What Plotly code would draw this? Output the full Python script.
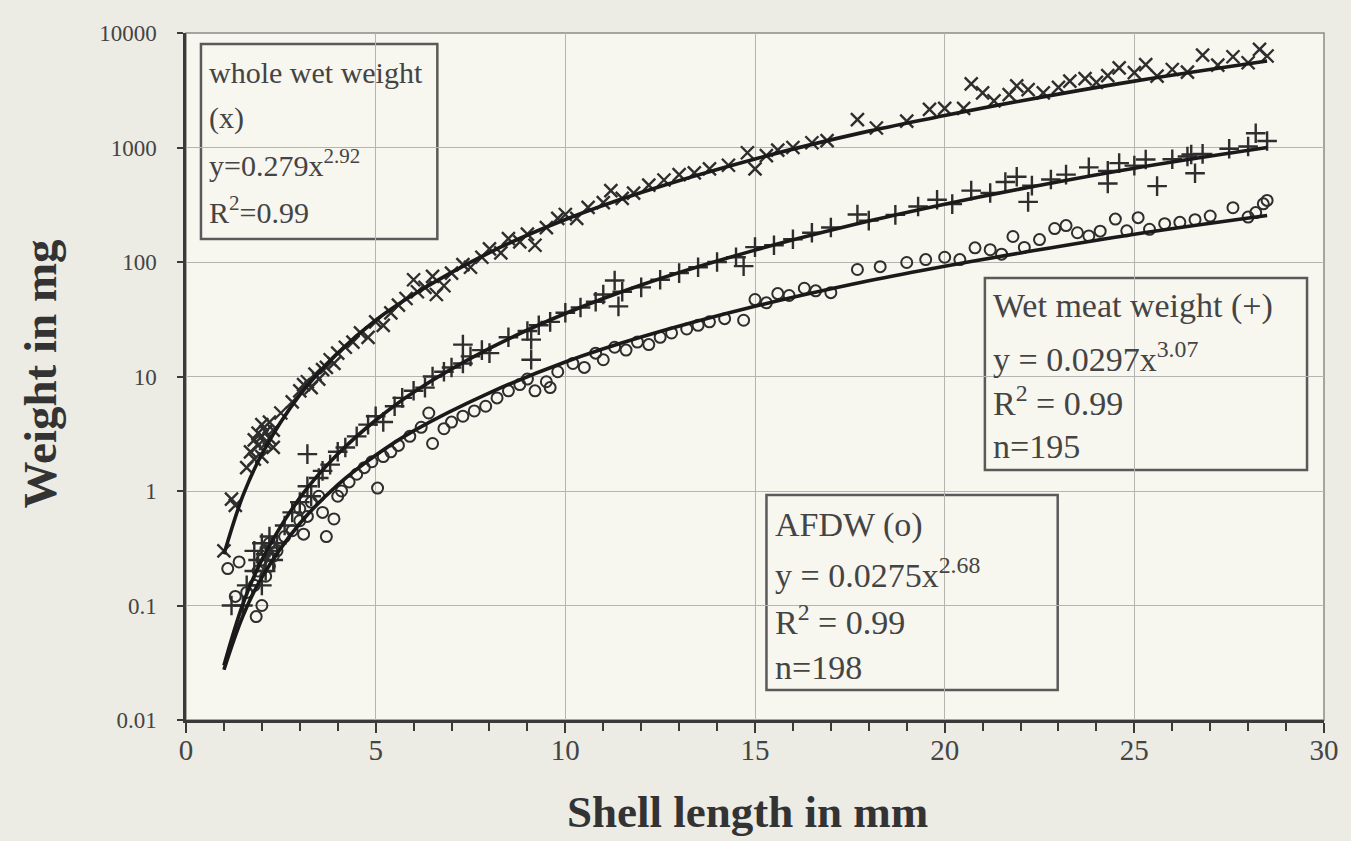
import plotly.graph_objects as go

# ---------------- data ----------------
# whole wet weight (x markers): shell length (mm), weight (mg)
wet_x_len = [1.0, 1.2, 1.3, 1.6, 1.7, 1.8, 1.8, 1.9, 1.9, 2.0, 2.0, 2.0, 2.1, 2.1, 2.2, 2.2, 2.3, 2.3,
             2.5, 2.8, 3.0, 3.1, 3.2, 3.3, 3.4, 3.5, 3.6, 3.7, 3.8, 3.9, 4.0, 4.2, 4.4, 4.6, 4.8, 5.0,
             5.2, 5.4, 5.6, 5.8, 6.0, 6.1, 6.3, 6.5, 6.6, 6.8, 7.0, 7.3, 7.5, 7.8, 8.0, 8.3, 8.5, 8.8,
             9.0, 9.2, 9.5, 9.8, 10.0, 10.3, 10.6, 11.0, 11.2, 11.5, 11.8, 12.2, 12.6, 13.0, 13.4, 13.8,
             14.3, 14.8, 15.0, 15.3, 15.6, 16.0, 16.5, 16.9, 17.7, 18.2, 19.0, 19.6, 20.0, 20.5, 20.7,
             21.0, 21.3, 21.7, 21.9, 22.2, 22.6, 23.0, 23.3, 23.7, 24.0, 24.3, 24.6, 25.0, 25.3, 25.6,
             26.0, 26.4, 26.8, 27.2, 27.6, 28.0, 28.3, 28.5]
wet_x_wt = [0.30, 0.85, 0.75, 1.6, 2.2, 1.9, 2.8, 2.5, 3.2, 2.0, 3.0, 3.8, 2.6, 3.3, 2.9, 4.0, 3.4, 2.4,
            4.8, 6.0, 7.5, 8.5, 9.0, 8.0, 10.5, 9.5, 11.5, 12, 14, 13, 16, 18, 20, 24, 22, 30,
            28, 36, 42, 48, 70, 55, 60, 75, 52, 62, 80, 95, 90, 110, 130, 120, 160, 150,
            175, 140, 200, 240, 260, 240, 300, 330, 420, 360, 400, 470, 520, 580, 600, 650,
            700, 900, 650, 850, 950, 1000, 1100, 1150, 1750, 1480, 1700, 2150, 2200, 2200, 3600,
            3000, 2550, 2900, 3450, 3200, 3000, 3350, 3800, 4000, 3700, 4250, 4950, 4500, 5300, 4200,
            4800, 4550, 6400, 5250, 6200, 5500, 7200, 6300]

# wet meat weight (+ markers)
meat_len = [1.2, 1.5, 1.6, 1.8, 1.8, 1.9, 2.0, 2.0, 2.1, 2.1, 2.2, 2.2, 2.3, 2.4, 2.6, 2.8, 3.0, 3.2,
            3.2, 3.3, 3.5, 3.6, 3.8, 4.0, 4.2, 4.5, 4.8, 5.0, 5.2, 5.5, 5.7, 6.0, 6.3, 6.5, 6.8,
            7.0, 7.3, 7.3, 7.5, 7.8, 8.0, 8.5, 9.0, 9.1, 9.1, 9.3, 9.6, 10.0, 10.4, 10.8, 11.0,
            11.3, 11.4, 11.5, 12.0, 12.5, 13.0, 13.5, 14.0, 14.5, 14.7, 15.0, 15.5, 16.0, 16.5,
            17.0, 17.7, 18.0, 18.7, 19.3, 19.8, 20.2, 20.7, 21.2, 21.6, 21.9, 22.2, 22.3, 22.8,
            23.2, 23.8, 24.3, 24.3, 24.6, 25.0, 25.3, 25.6, 26.0, 26.4, 26.5, 26.6, 26.8, 27.5,
            28.0, 28.2, 28.5]
meat_wt = [0.10, 0.10, 0.15, 0.20, 0.30, 0.25, 0.15, 0.35, 0.28, 0.20, 0.32, 0.40, 0.25, 0.35, 0.5, 0.65, 0.8, 2.1,
           1.1, 0.9, 1.3, 1.5, 1.7, 2.2, 2.4, 3.0, 3.8, 4.5, 4.0, 5.5, 6.5, 7.5, 8, 10, 11,
           12, 13, 19, 15, 17, 16, 22, 25, 21, 14, 28, 30, 36, 40, 45, 52,
           69, 41, 55, 60, 70, 80, 90, 100, 110, 92, 135, 140, 158, 180,
           200, 260, 230, 258, 305, 350, 320, 420, 400, 500, 555, 335, 465, 525,
           580, 670, 625, 485, 730, 695, 785, 460, 790, 835, 870, 595, 880, 975,
           1020, 1330, 1140]

# AFDW (o markers)
afdw_len = [1.1, 1.4, 1.3, 1.6, 1.8, 1.85, 1.9, 2.0, 2.0, 2.1, 2.1, 2.2, 2.2, 2.3, 2.4, 2.6, 2.8, 3.0,
            3.0, 3.1, 3.2, 3.3, 3.5, 3.6, 3.7, 3.9, 4.0, 4.1, 4.3, 4.5, 4.7, 4.9, 5.05, 5.2, 5.4,
            5.6, 5.9, 6.2, 6.4, 6.5, 6.8, 7.0, 7.3, 7.6, 7.9, 8.2, 8.5, 8.8, 9.0, 9.2, 9.5, 9.6,
            9.8, 10.2, 10.5, 10.8, 11.0, 11.3, 11.6, 11.9, 12.2, 12.5, 12.8, 13.2, 13.5, 13.8, 14.2,
            14.7, 15.0, 15.3, 15.6, 15.9, 16.3, 16.6, 17.0, 17.7, 18.3, 19.0, 19.5, 20.0, 20.4,
            20.8, 21.2, 21.5, 21.8, 22.1, 22.5, 22.9, 23.2, 23.5, 23.8, 24.1, 24.5, 24.8, 25.1,
            25.4, 25.8, 26.2, 26.6, 27.0, 27.6, 28.0, 28.2, 28.4, 28.5]
afdw_wt = [0.21, 0.24, 0.12, 0.13, 0.15, 0.08, 0.20, 0.10, 0.25, 0.30, 0.18, 0.22, 0.35, 0.27, 0.30, 0.40, 0.45, 0.55,
           0.70, 0.42, 0.60, 0.80, 0.90, 0.65, 0.40, 0.57, 0.90, 1.0, 1.2, 1.4, 1.6, 1.8, 1.06, 2.0, 2.2,
           2.5, 3.0, 3.6, 4.8, 2.6, 3.5, 4.0, 4.5, 5.0, 5.5, 6.5, 7.5, 8.5, 9.5, 7.5, 9, 8,
           11, 13, 12, 16, 14, 18, 17, 20, 19, 22, 24, 26, 28, 30, 32,
           31, 47, 44, 53, 51, 59, 56, 54, 86, 91, 99, 105, 110, 105,
           133, 128, 117, 167, 134, 157, 196, 208, 180, 169, 186, 237, 187, 244,
           193, 216, 222, 234, 252, 298, 247, 270, 322, 345]

# fitted curves
fit_len = [1.0, 1.5, 2.0, 3.0, 4.0, 5.0, 6.0, 8.0, 10.0, 12.0, 15.0, 18.0, 20.0, 22.0, 25.0, 28.5]
fit_wet = [0.28, 0.91, 2.1, 6.9, 16, 31, 52, 121, 235, 405, 795, 1390, 1900, 2550, 3800, 5700]
fit_meat = [0.030, 0.103, 0.25, 0.87, 2.1, 4.15, 7.3, 17.6, 35.5, 63, 127, 228, 320, 435, 660, 1000]
fit_afdw = [0.0275, 0.081, 0.176, 0.52, 1.13, 2.05, 3.35, 7.2, 13.4, 22.1, 41, 68.5, 92, 120, 175, 255]

y_tickvals = [0.01, 0.1, 1, 10, 100, 1000, 10000]
y_ticktext = ["0.01", "0.1", "1", "10", "100", "1000", "10000"]
x_tickvals = [0, 5, 10, 15, 20, 25, 30]

# ---------------- figure ----------------
MARK = "#2e2e2e"
FONT = "Liberation Serif"
TXT = "#444444"
PLOT_BG = "#f7f6ef"

fig = go.Figure()
fig.add_trace(go.Scatter(x=wet_x_len, y=wet_x_wt, mode="markers",
                         marker=dict(symbol="x-thin", size=13, line=dict(width=2.4, color=MARK))))
fig.add_trace(go.Scatter(x=meat_len, y=meat_wt, mode="markers",
                         marker=dict(symbol="cross-thin", size=14, line=dict(width=2.4, color=MARK))))
fig.add_trace(go.Scatter(x=afdw_len, y=afdw_wt, mode="markers",
                         marker=dict(symbol="circle-open", size=11, color=MARK, line=dict(width=2, color=MARK))))
for yy in (fit_wet, fit_meat, fit_afdw):
    fig.add_trace(go.Scatter(x=fit_len, y=yy, mode="lines", line=dict(color="#1a1a1a", width=3.6, shape="spline")))

fig.update_layout(
    width=1351, height=841, autosize=False,
    margin=dict(l=186, r=24, t=33, b=121),
    paper_bgcolor="#ecebe4", plot_bgcolor=PLOT_BG,
    showlegend=False,
    font=dict(family=FONT, color=TXT, size=20),
)
fig.update_xaxes(range=[0, 30], tickvals=x_tickvals, showgrid=True, gridcolor="#b4b4b0", gridwidth=1,
                 showline=True, linecolor="#3a3a3a", linewidth=2.5, ticks="outside", ticklen=10,
                 tickwidth=2, tickcolor="#3a3a3a", zeroline=False, ticklabelstandoff=-8,
                 tickfont=dict(family=FONT, size=29, color=TXT),
                 minor=dict(dtick=1, ticks="outside", ticklen=8, tickwidth=2, tickcolor="#3a3a3a", showgrid=False))
fig.update_yaxes(type="log", range=[-2, 4], tickvals=y_tickvals, ticktext=y_ticktext, showgrid=True,
                 gridcolor="#b4b4b0", gridwidth=1, showline=True, linecolor="#3a3a3a", linewidth=2.5,
                 ticks="outside", ticklen=6, tickwidth=2, tickcolor="#3a3a3a", zeroline=False,
                 ticklabelstandoff=16, tickfont=dict(family=FONT, size=23, color=TXT))

# plot border (top / right)
fig.add_shape(type="rect", xref="paper", yref="paper", x0=0, x1=1, y0=0, y1=1,
              line=dict(color="#8c8c88", width=1.5), layer="below")

W0, W1, H0, H1 = 186, 1327, 33, 720


def px(xp):
    return (xp - W0) / (W1 - W0)


def py(yp):
    return (H1 - yp) / (H1 - H0)


# boxes behind the fit statistics
for x0, x1, y0, y1 in [(201, 438, 44, 239), (987, 1310, 278, 470), (768, 1060, 495, 690)]:
    fig.add_shape(type="rect", xref="paper", yref="paper", x0=px(x0), x1=px(x1), y0=py(y1), y1=py(y0),
                  line=dict(color="#5a5a5a", width=2.5), fillcolor=PLOT_BG, layer="between")

# box 1 texts
box1_lines = ["whole wet weight", "(x)", "y=0.279x<sup>2.92</sup>", "R<sup>2</sup>=0.99"]
for text, yc in zip(box1_lines, [73, 118, 163, 210]):
    fig.add_annotation(xref="paper", yref="paper", x=px(207), y=py(yc), xanchor="left", yanchor="middle",
                       text=text, showarrow=False, font=dict(family=FONT, size=30, color=TXT))

# box 2 texts
box2_lines = ["Wet meat weight (+)", "y = 0.0297x<sup>3.07</sup>", "R<sup>2</sup> = 0.99", "n=195"]
for text, yc in zip(box2_lines, [306, 357, 401, 446]):
    fig.add_annotation(xref="paper", yref="paper", x=px(993), y=py(yc), xanchor="left", yanchor="middle",
                       text=text, showarrow=False, font=dict(family=FONT, size=34, color=TXT))

# box 3 texts
box3_lines = ["AFDW (o)", "y = 0.0275x<sup>2.68</sup>", "R<sup>2</sup> = 0.99", "n=198"]
for text, yc in zip(box3_lines, [525, 573, 620, 667]):
    fig.add_annotation(xref="paper", yref="paper", x=px(775), y=py(yc), xanchor="left", yanchor="middle",
                       text=text, showarrow=False, font=dict(family=FONT, size=34, color=TXT))

# axis titles
fig.add_annotation(xref="paper", yref="paper", x=px(749), y=py(812), text="<b>Shell length in mm</b>",
                   showarrow=False, xanchor="center", yanchor="middle",
                   font=dict(family=FONT, size=45, color="#333333"))
fig.add_annotation(xref="paper", yref="paper", x=px(40), y=py(374), text="<b>Weight in mg</b>",
                   showarrow=False, xanchor="center", yanchor="middle", textangle=-90,
                   font=dict(family=FONT, size=47, color="#333333"))

fig.write_html("out.html", config={"displayModeBar": False})

# remove the browser's default page margin so the figure sits at the window origin
with open("out.html", "r", encoding="utf-8") as f:
    html = f.read()
html = html.replace("<body>", '<body style="margin:0;padding:0;">', 1)
with open("out.html", "w", encoding="utf-8") as f:
    f.write(html)
